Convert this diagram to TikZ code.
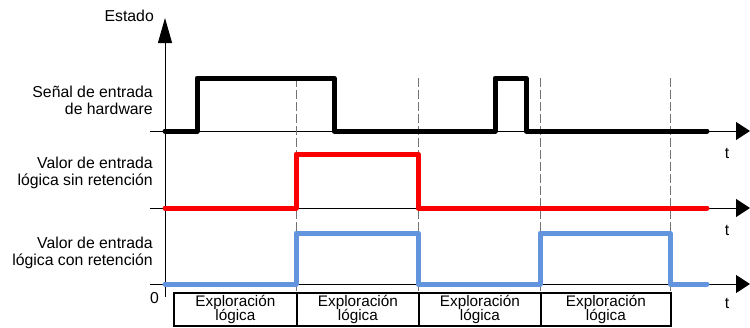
\documentclass[tikz,border=0pt]{standalone}
\usepackage{fontspec}
\setmainfont{Liberation Sans}
\usetikzlibrary{arrows.meta}
\definecolor{sigred}{RGB}{250,0,0}
\definecolor{sigblue}{RGB}{99,148,222}
\definecolor{guidegray}{RGB}{115,115,115}
\begin{document}
\begin{tikzpicture}[x=1pt,y=-1pt,
  font=\fontsize{15.8}{17.5}\selectfont,
  lbl/.style={anchor=base east, inner sep=0pt},
  ctr/.style={anchor=base, inner sep=0pt},
  boxtext/.style={ctr, font=\fontsize{15.3}{15}\selectfont},
  sig/.style={line width=5pt, line join=round, line cap=round},
  axisline/.style={line width=0.9pt},
  harrow/.style={axisline, -{Triangle[length=14pt,width=18pt]}},
  varrow/.style={axisline, -{Triangle[length=25pt,width=14pt]}},
  guide/.style={draw=guidegray, line width=0.8pt, dash pattern=on 9pt off 3pt},
  scanbox/.style={draw, line width=1.8pt, anchor=north west, minimum height=33pt, inner sep=0pt}]
\useasboundingbox (0,0) rectangle (750,327);

% axes
\coordinate (vbot) at (165,297);
\coordinate (vtop) at (165,18);
\draw[varrow] (vbot) -- (vtop);
\coordinate (h1s) at (150,131); \coordinate (h1e) at (750,131);
\coordinate (h2s) at (150,208); \coordinate (h2e) at (750,208);
\coordinate (h3s) at (150,284); \coordinate (h3e) at (750,284);
\draw[harrow] (h1s) -- (h1e);
\draw[harrow] (h2s) -- (h2e);
\draw[harrow] (h3s) -- (h3e);

% guide lines
\foreach \gx/\gn in {296/g1,418/g2,540/g3,670/g4}{
  \coordinate (\gn t) at (\gx,78);
  \coordinate (\gn b) at (\gx,292);
  \draw[guide] (\gn t) -- (\gn b);
}

% signals
\draw[sig,black] (165,131) -- (197,131) -- (197,78) -- (334,78) -- (334,131)
  -- (495,131) -- (495,78) -- (526,78) -- (526,131) -- (707,131);
\draw[sig,sigred] (165,208) -- (296,208) -- (296,154) -- (418,154) -- (418,208) -- (707,208);
\draw[sig,sigblue] (165,284) -- (296,284) -- (296,233) -- (418,233) -- (418,284)
  -- (540,284) -- (540,233) -- (670,233) -- (670,284) -- (707,284);

% labels
\node[lbl] (estado) at (154,21) {Estado};
\node[lbl] (hw1) at (153,97) {Señal de entrada};
\node[lbl] (hw2) at (153,114) {de hardware};
\node[lbl] (sr1) at (153,168) {Valor de entrada};
\node[lbl] (sr2) at (153,185) {lógica sin retención};
\node[lbl] (cr1) at (153,248) {Valor de entrada};
\node[lbl] (cr2) at (153,265) {lógica con retención};
\node[lbl] (zero) at (159,303) {0};
\node[ctr] (t1) at (727,158) {t};
\node[ctr] (t2) at (727,235) {t};
\node[ctr] (t3) at (727,308) {t};

% scan boxes
\node[scanbox, minimum width=123pt] (b1) at (173,292) {};
\node[scanbox, minimum width=122pt] (b2) at (296,292) {};
\node[scanbox, minimum width=122pt] (b3) at (418,292) {};
\node[scanbox, minimum width=130pt] (b4) at (540,292) {};
\foreach \bn in {b1,b2,b3,b4}{
  \node[boxtext] (\bn x) at ([yshift=-14.5pt]\bn.north) {Exploración};
  \node[boxtext] (\bn l) at ([yshift=-28pt]\bn.north) {lógica};
}
\end{tikzpicture}
\end{document}
